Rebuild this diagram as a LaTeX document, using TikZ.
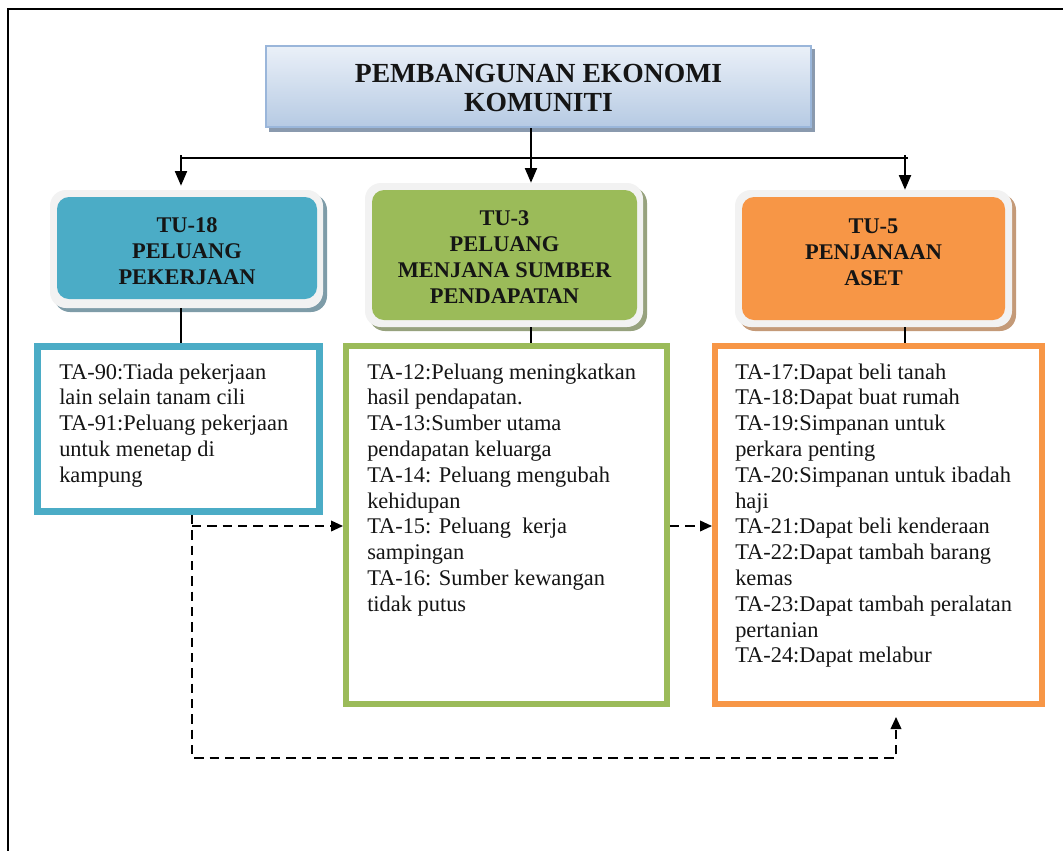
\documentclass[tikz,border=0pt]{standalone}
\usepackage{fontspec}
\setmainfont{Liberation Serif}
\usetikzlibrary{arrows.meta,calc}
\definecolor{tubl}{HTML}{4BACC6}
\definecolor{tugr}{HTML}{9BBB59}
\definecolor{tuor}{HTML}{F79646}
\definecolor{frm}{HTML}{F2F2F2}
\definecolor{shbl}{HTML}{7E9CA8}
\definecolor{shgr}{HTML}{97A27E}
\definecolor{shor}{HTML}{C49A78}
\definecolor{shti}{HTML}{8A9AAE}
\definecolor{titop}{HTML}{EAF0F8}
\definecolor{tibot}{HTML}{B6CAE3}
\definecolor{tibd}{HTML}{9AB6DA}
\definecolor{txt}{HTML}{151515}
\begin{document}
\begin{tikzpicture}[x=0.75pt,y=-0.75pt,
  titlebox/.style={draw=tibd,line width=1.5pt,top color=titop,bottom color=tibot,inner sep=0pt},
  framebox/.style={fill=frm,rounded corners=12pt,inner sep=0pt},
  tubox/.style={rounded corners=9pt,inner sep=0pt},
  tabox/.style={draw,fill=white,inner sep=0pt},
  titletext/.style={font=\fontsize{20.7}{24}\selectfont\bfseries,inner sep=0pt,anchor=base,text=txt},
  tutext/.style={font=\fontsize{16.8}{19.5}\selectfont\bfseries,inner sep=0pt,anchor=base,text=txt},
  tatext/.style={font=\fontsize{16.8}{19.5}\selectfont,inner sep=0pt,anchor=base west,text=txt},
  conn/.style={line width=1.5pt},
  arr/.style={-{Triangle[length=11pt,width=9pt]}},
  dconn/.style={line width=1.2pt,dash pattern=on 7pt off 4.5pt},
  darr/.style={-{Triangle[length=9pt,width=8pt]}}
]
\useasboundingbox (0,0) rectangle (1063,850);
\clip (0,0) rectangle (1063,850);
\fill[white] (0,0) rectangle (1063,850);
% outer border
\draw[line width=1.5pt] (8,880) -- (8,9) -- (1090,9);

% title
\fill[shti] (269,49) rectangle (815,132);
\node[titlebox,minimum width=408.75pt,minimum height=60.75pt] (title) at (538.5,86.5) {};
\node[titletext] (tl1) at (538.5,82) {PEMBANGUNAN EKONOMI};
\node[titletext] (tl2) at (538.5,111) {KOMUNITI};

% TU boxes: shadows
\fill[shbl,rounded corners=12pt] (54,194) rectangle (327,312);
\fill[shgr,rounded corners=12pt] (369,187) rectangle (647,331);
\fill[shor,rounded corners=12pt] (739,194) rectangle (1016,331);
% frames
\node[framebox,minimum width=204.75pt,minimum height=88.5pt] (f18) at (186.5,249) {};
\node[framebox,minimum width=208.5pt,minimum height=108pt] (f3) at (504,255) {};
\node[framebox,minimum width=207.75pt,minimum height=102.75pt] (f5) at (873.5,258.5) {};
% inner coloured boxes
\node[tubox,fill=tubl,minimum width=195pt,minimum height=76.5pt] (tu18) at (187,248) {};
\node[tubox,fill=tugr,minimum width=198.75pt,minimum height=97.5pt] (tu3) at (504.5,255) {};
\node[tubox,fill=tuor,minimum width=197.25pt,minimum height=92.25pt] (tu5) at (873.5,258.5) {};

\foreach \t [count=\i] in {TU-18,PELUANG,PEKERJAAN}
  \node[tutext] (ua\i) at (187,{232+26*(\i-1)}) {\t};
\foreach \t [count=\i] in {TU-3,PELUANG,MENJANA SUMBER,PENDAPATAN}
  \node[tutext] (ub\i) at (504.5,{225+26*(\i-1)}) {\t};
\foreach \t [count=\i] in {TU-5,PENJANAAN,ASET}
  \node[tutext] (uc\i) at (873.5,{233+26*(\i-1)}) {\t};

% TA boxes
\node[tabox,draw=tubl,line width=5.25pt,minimum width=211.5pt,minimum height=123.75pt] (ta18) at (178.5,429) {};
\node[tabox,draw=tugr,line width=4.5pt,minimum width=240.75pt,minimum height=268.5pt] (ta3) at (506.5,525) {};
\node[tabox,draw=tuor,line width=4.5pt,minimum width=245.25pt,minimum height=268.5pt] (ta5) at (878.5,525) {};

\foreach \t [count=\i] in {TA-90:Tiada pekerjaan,lain selain tanam cili,TA-91:Peluang pekerjaan,untuk menetap di,kampung}
  \node[tatext] (ba\i) at (59,{379+25.8*(\i-1)}) {\t};
\foreach \t [count=\i] in {TA-12:Peluang meningkatkan,hasil pendapatan.,TA-13:Sumber utama,pendapatan keluarga,TA-14: Peluang mengubah,kehidupan,TA-15: Peluang~ kerja,sampingan,TA-16: Sumber kewangan,tidak putus}
  \node[tatext] (bb\i) at (367,{379+25.8*(\i-1)}) {\t};
\foreach \t [count=\i] in {TA-17:Dapat beli tanah,TA-18:Dapat buat rumah,TA-19:Simpanan untuk,perkara penting,TA-20:Simpanan untuk ibadah,haji,TA-21:Dapat beli kenderaan,TA-22:Dapat tambah barang,kemas,TA-23:Dapat tambah peralatan,pertanian,TA-24:Dapat melabur}
  \node[tatext] (bc\i) at (735,{379+25.8*(\i-1)}) {\t};

% solid connectors
\coordinate (cm) at (531,158);
\coordinate (cl) at (181,155);
\coordinate (cr) at (905,155);
\coordinate (hl) at (181,158);
\coordinate (hr) at (908,158);
\draw[conn,arr] (title.south -| cm) -- (f3.north -| cm);
\draw[conn] (hl) -- (hr);
\draw[conn,arr,shorten >=3pt] (cl) -- (f18.north -| cl);
\draw[conn,arr] (cr) -- (f5.north -| cr);
\coordinate (c18) at (181,0);
\coordinate (c3) at (531,0);
\coordinate (c5) at (905,0);
\draw[conn] (f18.south -| c18) -- (ta18.north -| c18);
\draw[conn] (f3.south -| c3) -- (ta3.north -| c3);
\draw[conn] (f5.south -| c5) -- (ta5.north -| c5);

% dashed connectors
\coordinate (dv) at (192,0);
\coordinate (dh) at (0,526);
\coordinate (dbl) at (192,758);
\coordinate (dbr) at (896,758);
\draw[dconn,darr,shorten >=7.5pt] (ta18.south -| dv) -- (dbl) -- (dbr) -- (ta5.south -| dbr);
\draw[dconn,darr] (dv |- dh) -- (ta3.west |- dh);
\draw[dconn,darr] (ta3.east |- dh) -- (ta5.west |- dh);
\end{tikzpicture}
\end{document}
